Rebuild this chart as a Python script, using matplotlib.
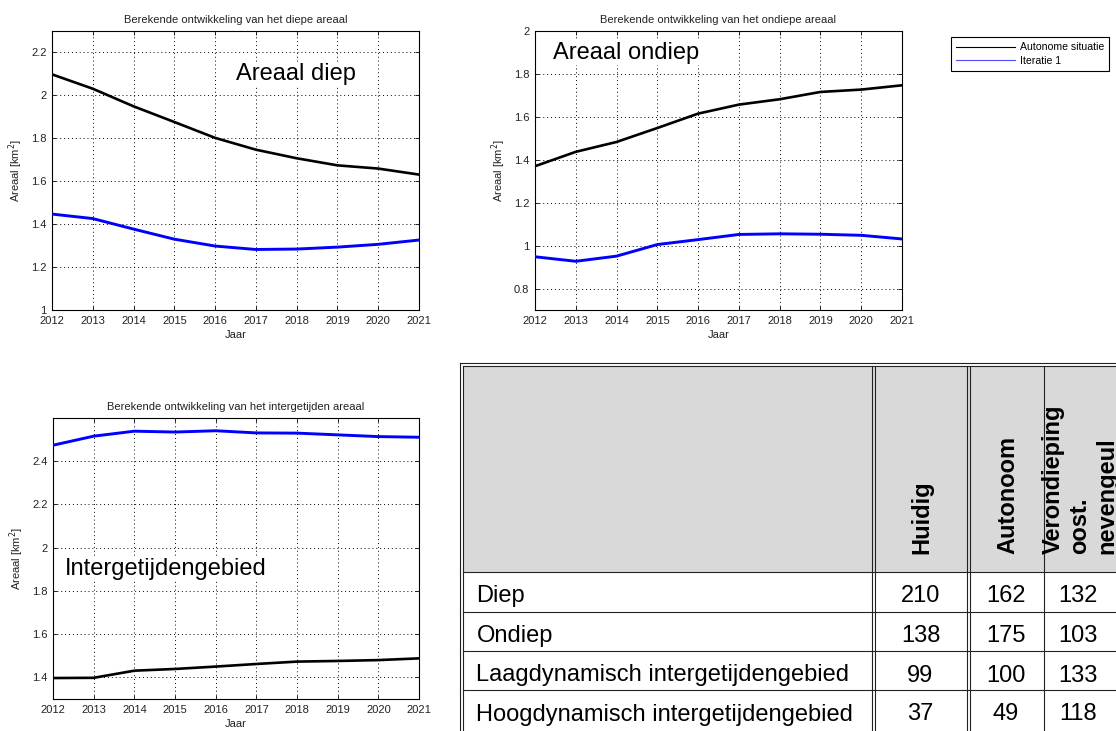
import numpy as np
import matplotlib
matplotlib.use("Agg")
import matplotlib.pyplot as plt
from matplotlib.lines import Line2D
from matplotlib.ticker import FuncFormatter

plt.rcParams['font.family'] = ['Liberation Sans', 'DejaVu Sans']

# --- DATA ---
jaren = [2012, 2013, 2014, 2015, 2016, 2017, 2018, 2019, 2020, 2021]

diep_autonoom = [2.098, 2.031, 1.949, 1.876, 1.802, 1.747, 1.707, 1.674, 1.659, 1.631]
diep_iteratie = [1.447, 1.426, 1.377, 1.330, 1.298, 1.282, 1.284, 1.293, 1.306, 1.326]

ondiep_autonoom = [1.370, 1.437, 1.483, 1.548, 1.615, 1.657, 1.682, 1.716, 1.727, 1.747]
ondiep_iteratie = [0.948, 0.927, 0.951, 1.005, 1.028, 1.052, 1.055, 1.053, 1.048, 1.031]

inter_autonoom = [1.397, 1.398, 1.431, 1.439, 1.450, 1.462, 1.473, 1.476, 1.480, 1.488]
inter_iteratie = [2.474, 2.516, 2.539, 2.535, 2.541, 2.531, 2.530, 2.522, 2.514, 2.511]

reeks_namen = ['Autonome situatie', 'Iteratie 1']

tabel_rijen = ['Diep', 'Ondiep', 'Laagdynamisch intergetijdengebied',
               'Hoogdynamisch intergetijdengebied']
tabel_kolommen = ['Huidig', 'Autonoom', 'Verondieping\noost.\nnevengeul']
huidig = [210, 138, 99, 37]
autonoom = [162, 175, 100, 49]
verondieping = [132, 103, 133, 118]

W, H = 1116, 731
fig = plt.figure(figsize=(W / 100, H / 100), dpi=100)
fig.patch.set_facecolor('white')

def px_axes(left, top, right, bottom):
    return fig.add_axes([left / W, 1 - bottom / H, (right - left) / W, (bottom - top) / H])

fmt = FuncFormatter(lambda v, p: '%g' % round(v, 3))

def matlab_plot(ax, y_auto, y_iter, title, ylim, yticks, label, label_pos):
    ax.plot(jaren, y_auto, color='black', lw=1.9, zorder=3)
    ax.plot(jaren, y_iter, color='#0000ff', lw=2.1, zorder=3)
    ax.set_xlim(2012, 2021)
    ax.set_ylim(*ylim)
    ax.set_xticks(jaren)
    ax.set_yticks(yticks)
    ax.yaxis.set_major_formatter(fmt)
    ax.grid(True, color='black', linestyle=(0, (1, 3)), lw=0.7)
    ax.tick_params(direction='in', length=3, width=0.7, top=True, right=True,
                   labelsize=8, pad=4, colors='#222222')
    for s in ax.spines.values():
        s.set_linewidth(0.8)
    ax.set_title(title, fontsize=8, pad=6, color='#222222')
    ax.set_xlabel('Jaar', fontsize=8, labelpad=3, color='#222222')
    ax.set_ylabel('Areaal [km$^2$]', fontsize=8, labelpad=4, color='#222222')
    ax.text(label_pos[0], label_pos[1], label, transform=ax.transAxes, fontsize=17,
            ha='left', va='center', zorder=4,
            bbox=dict(facecolor='white', edgecolor='none', pad=1))

ax1 = px_axes(52, 31, 419, 310)
matlab_plot(ax1, diep_autonoom, diep_iteratie,
            'Berekende ontwikkeling van het diepe areaal',
            (1, 2.3), np.arange(1, 2.21, 0.2), 'Areaal diep', (0.50, 0.846))

ax2 = px_axes(535, 31, 902, 310)
matlab_plot(ax2, ondiep_autonoom, ondiep_iteratie,
            'Berekende ontwikkeling van het ondiepe areaal',
            (0.7, 2.0), np.arange(0.8, 2.01, 0.2), 'Areaal ondiep', (0.048, 0.921))

ax3 = px_axes(53, 418, 419, 699)
matlab_plot(ax3, inter_autonoom, inter_iteratie,
            'Berekende ontwikkeling van het intergetijden areaal',
            (1.3, 2.6), np.arange(1.4, 2.41, 0.2), 'Intergetijdengebied', (0.032, 0.463))

# legenda
handles = [Line2D([], [], color='black', lw=0.8), Line2D([], [], color='#4d4dff', lw=0.8)]
leg = fig.legend(handles, reeks_namen, loc='upper left', bbox_to_anchor=(951 / W, 1 - 37 / H),
                 fontsize=7.6, handlelength=5.6, handletextpad=0.4, borderpad=0.5,
                 labelspacing=0.35, borderaxespad=0, fancybox=False, framealpha=1,
                 edgecolor='black')
leg.get_frame().set_linewidth(0.8)

# --- TABEL ---
tab = fig.add_axes([0, 0, 1, 1], facecolor='none')
tab.set_xlim(0, W)
tab.set_ylim(H, 0)
tab.axis('off')

lc = '#222222'
lw = 0.8
rij_grenzen = [571.7, 611.7, 651, 690, H]
kol_mid = [920.5, 1006, 1078]

tab.add_patch(plt.Rectangle((462.5, 365.5), W - 462.5, 571.7 - 365.5,
                            facecolor='#d9d9d9', edgecolor='none'))
# dubbele buitenrand
for x in (459.5, 462.5):
    tab.plot([x, x], [362.5 if x < 461 else 365.5, H], color=lc, lw=lw)
for y in (362.5, 365.5):
    tab.plot([459.5 if y < 364 else 462.5, W], [y, y], color=lc, lw=lw)
# kolomscheidingen
for x in (871.5, 874.5, 966.8, 969.5):
    tab.plot([x, x], [365.5, H], color=lc, lw=lw)
tab.plot([1043.5, 1043.5], [365.5, H], color=lc, lw=lw)
# rijscheidingen
for y in rij_grenzen[:-1]:
    tab.plot([462.5, W], [y, y], color=lc, lw=lw)

for i, naam in enumerate(tabel_rijen):
    yb = rij_grenzen[i] + 30.5
    tab.text(476.5, yb, naam, fontsize=17, ha='left', va='baseline')
    for xm, v in zip(kol_mid, (huidig[i], autonoom[i], verondieping[i])):
        tab.text(xm, yb, str(v), fontsize=17, ha='center', va='baseline')

tab.text(922, 554, tabel_kolommen[0], rotation=90, fontsize=17, fontweight='bold',
         ha='center', va='bottom')
tab.text(1008, 554, tabel_kolommen[1], rotation=90, fontsize=17, fontweight='bold',
         ha='center', va='bottom')
tab.text(1042, 554, tabel_kolommen[2], rotation=90, fontsize=17, fontweight='bold',
         ha='left', va='bottom', multialignment='left', linespacing=1.2)

fig.savefig('out.png', dpi=100)
